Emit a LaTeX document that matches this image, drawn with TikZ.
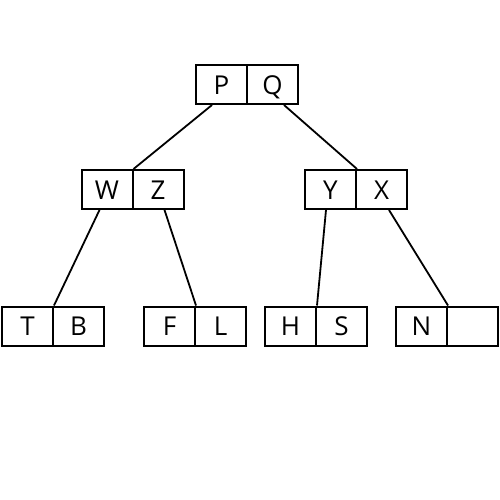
\documentclass[tikz,border=0pt]{standalone}
\usepackage{fontspec}
\setmainfont{Open Sans}
\begin{document}
\begin{tikzpicture}[x=1pt,y=-1pt,
  half/.style={draw, line width=2pt, rectangle, inner sep=0pt,
    minimum width=51pt, minimum height=39pt,
    text height=19.5pt, text depth=0pt,
    font=\fontsize{26}{26}\selectfont},
  link/.style={line width=1.8pt}]
\useasboundingbox (0,0) rectangle (500,500);
% root
\node[half] (P) at (221.5,84.5) {P};
\node[half] (Q) at (272.5,84.5) {Q};
% second level
\node[half] (W) at (107,189.5) {W};
\node[half] (Z) at (158,189.5) {Z};
\node[half] (Y) at (330.5,189.5) {Y};
\node[half] (X) at (381.5,189.5) {X};
% leaves
\node[half] (T) at (27.5,326) {T};
\node[half] (B) at (78.5,326) {B};
\node[half] (F) at (169.5,326) {F};
\node[half] (L) at (220.5,326) {L};
\node[half] (H) at (290.5,326) {H};
\node[half] (S) at (341.5,326) {S};
\node[half] (N) at (421.5,326) {N};
\node[half] (E) at (472.5,326) {};
% links
\draw[link] ([xshift=17pt]P.south west) -- (W.north east);
\draw[link] ([xshift=-15pt]Q.south east) -- (Y.north east);
\draw[link] ([xshift=19pt]W.south west) -- (T.north east);
\draw[link] ([xshift=-20pt]Z.south east) -- (F.north east);
\draw[link] ([xshift=22pt]Y.south west) -- (H.north east);
\draw[link] ([xshift=-19pt]X.south east) -- (N.north east);
\end{tikzpicture}
\end{document}
